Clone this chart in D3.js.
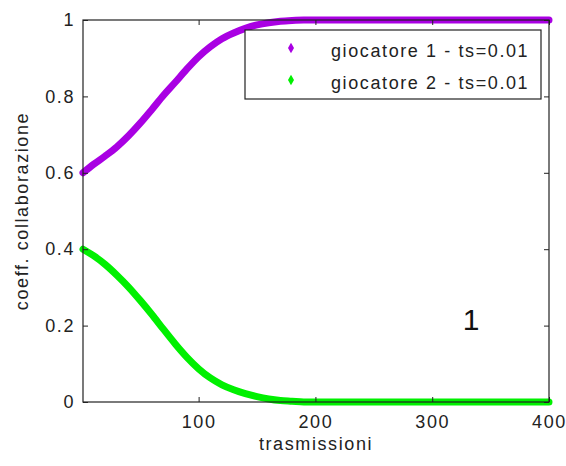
<!DOCTYPE html>
<html>
<head>
<meta charset="utf-8">
<script src="https://cdn.jsdelivr.net/npm/d3@7"></script>
<style>
  body { margin: 0; background: #fff; }
  text { font-family: "Liberation Sans", Arial, sans-serif; }
</style>
</head>
<body>
<div id="chart"></div>
<script>
// data
var trasmissioni = [1, 10, 20, 30, 40, 50, 60, 70, 80, 90, 100, 110, 120, 130, 140, 150, 160, 170, 180,
  190, 200, 220, 240, 260, 280, 300, 320, 340, 360, 380, 400];
var giocatore1 = [0.600, 0.622, 0.644, 0.668, 0.697, 0.730, 0.766, 0.803, 0.837, 0.872, 0.904, 0.930, 0.951,
  0.966, 0.978, 0.987, 0.993, 0.997, 0.999, 1, 1, 1, 1, 1, 1, 1, 1, 1, 1, 1, 1];
var giocatore2 = [0.400, 0.383, 0.360, 0.332, 0.301, 0.266, 0.229, 0.190, 0.152, 0.117, 0.087, 0.063, 0.045,
  0.032, 0.022, 0.014, 0.008, 0.004, 0.002, 0, 0, 0, 0, 0, 0, 0, 0, 0, 0, 0, 0];
var xTicks = [100, 200, 300, 400];
var yTicks = [0, 0.2, 0.4, 0.6, 0.8, 1];
var legendLabels = ["giocatore 1 - ts=0.01", "giocatore 2 - ts=0.01"];
var colors = ["#a900e3", "#00f000"];

var margin = {top: 20, right: 17, bottom: 64, left: 83},
  width = 566 - margin.left - margin.right,
  height = 466 - margin.top - margin.bottom;

var svg = d3.select("#chart")
.append("svg")
  .attr("width", 566)
  .attr("height", 466)
.append("g")
  .attr("transform", "translate(" + margin.left + "," + margin.top + ")");

var x = d3.scaleLinear().domain([1, 400]).range([0, width]);
var y = d3.scaleLinear().domain([0, 1]).range([height, 0]);

var series = [giocatore1, giocatore2];

// curves: thick lines made of the sampled points
var line = d3.line()
  .x(function(d, i) { return x(trasmissioni[i]); })
  .y(function(d) { return y(d); })
  .curve(d3.curveMonotoneX);

series.forEach(function(s, k) {
  svg.append("path")
    .datum(s)
    .attr("fill", "none")
    .attr("stroke", colors[k])
    .attr("stroke-width", 7)
    .attr("stroke-linecap", "round")
    .attr("d", line);
});

// axes (ticks inside, like matlab)
var axisStyle = function(g) {
  g.select(".domain").remove();
  g.selectAll(".tick line").attr("stroke", "#222");
  g.selectAll("text")
    .style("font-size", "18px")
    .style("letter-spacing", "1.6px")
    .attr("fill", "#222");
};

svg.append("g")
  .attr("transform", "translate(0," + height + ")")
  .call(d3.axisBottom(x).tickValues(xTicks).tickSize(-5).tickPadding(13))
  .call(axisStyle);

svg.append("g")
  .call(d3.axisTop(x).tickValues(xTicks).tickSize(-5).tickFormat(""))
  .call(axisStyle);

svg.append("g")
  .call(d3.axisLeft(y).tickValues(yTicks).tickSize(-5).tickPadding(8).tickFormat(function(d) { return d; }))
  .call(axisStyle);

svg.append("g")
  .attr("transform", "translate(" + width + ",0)")
  .call(d3.axisRight(y).tickValues(yTicks).tickSize(-5).tickFormat(""))
  .call(axisStyle);

// box
svg.append("rect")
  .attr("width", width)
  .attr("height", height)
  .attr("fill", "none")
  .attr("stroke", "#222")
  .attr("stroke-width", 1.2);

// axis labels
svg.append("text")
  .attr("x", width / 2)
  .attr("y", height + 48)
  .attr("text-anchor", "middle")
  .style("font-size", "18px")
  .style("letter-spacing", "1.6px")
  .attr("fill", "#222")
  .text("trasmissioni");

svg.append("text")
  .attr("transform", "translate(" + (28 - margin.left) + "," + (height / 2) + ") rotate(-90)")
  .attr("text-anchor", "middle")
  .style("font-size", "18px")
  .style("letter-spacing", "1.6px")
  .attr("fill", "#222")
  .text("coeff. collaborazione");

// legend
var legend = svg.append("g")
  .attr("transform", "translate(" + (245 - margin.left) + "," + (30 - margin.top) + ")");
legend.append("rect")
  .attr("width", 296)
  .attr("height", 69)
  .attr("fill", "#fff")
  .attr("stroke", "#222")
  .attr("stroke-width", 1.2);

legendLabels.forEach(function(lab, k) {
  var row = legend.append("g").attr("transform", "translate(0," + (18 + k * 32) + ")");
  row.append("path")
    .attr("transform", "translate(46,0)")
    .attr("d", d3.symbol().type(d3.symbolDiamond).size(32))
    .attr("fill", colors[k]);
  row.append("text")
    .attr("x", 86)
    .attr("y", 9)
    .style("font-size", "18px")
    .style("letter-spacing", "1.6px")
    .attr("fill", "#222")
    .text(lab);
});

// panel number
svg.append("text")
  .attr("x", 471 - margin.left)
  .attr("y", 330 - margin.top)
  .attr("text-anchor", "middle")
  .style("font-size", "30px")
  .attr("fill", "#111")
  .text("1");
</script>
</body>
</html>
